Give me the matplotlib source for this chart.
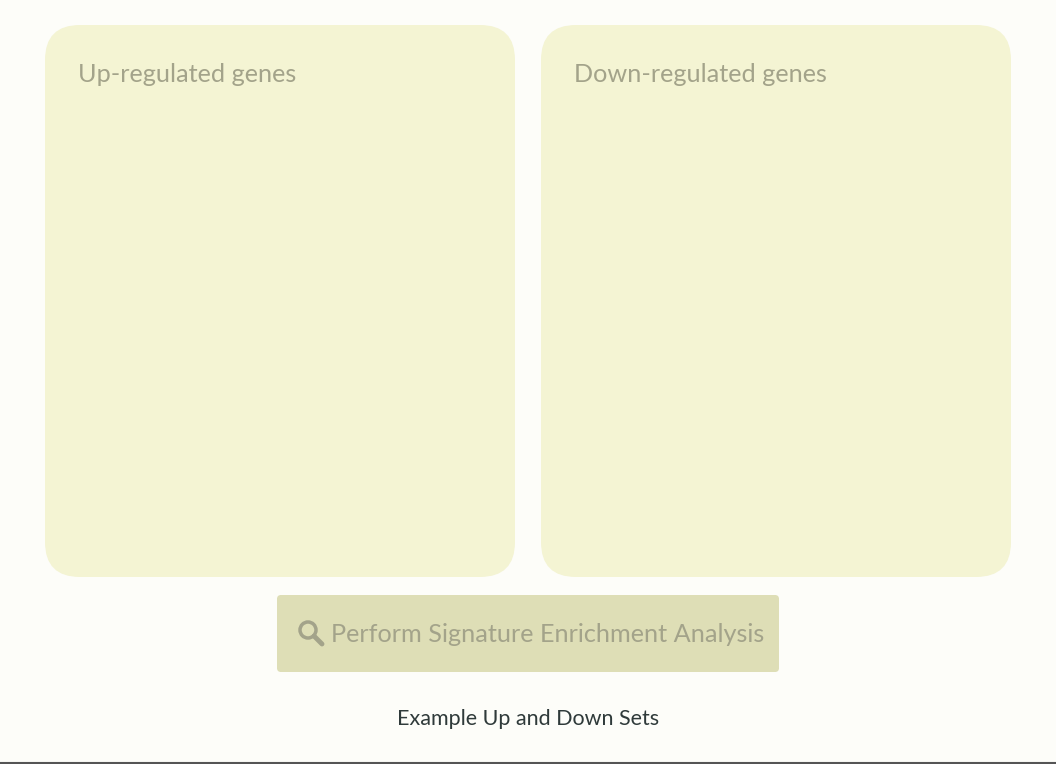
import matplotlib.pyplot as plt
from matplotlib.patches import FancyBboxPatch, Circle

panel_titles = ["Up-regulated genes", "Down-regulated genes"]
panel_left = [45, 541]
button_label = "Perform Signature Enrichment Analysis"
footer_label = "Example Up and Down Sets"

fig = plt.figure(figsize=(10.56, 7.64), dpi=100)
fig.patch.set_facecolor("#fdfdf9")
ax = fig.add_axes([0, 0, 1, 1])
ax.set_xlim(0, 1056)
ax.set_ylim(764, 0)
ax.axis("off")

for x0, title in zip(panel_left, panel_titles):
    ax.add_patch(FancyBboxPatch((x0 + 35, 25 + 35), 470 - 70, 552 - 70,
                                boxstyle="round,pad=35", fc="#f4f4d3", ec="none"))
    ax.text(x0 + 33, 74, title, fontsize=18.2, family=["Lato", "DejaVu Sans"],
            color="#a3a38a", va="center", ha="left")

ax.add_patch(FancyBboxPatch((281, 599), 494, 69, boxstyle="round,pad=4",
                            fc="#dedeb6", ec="none"))
ax.add_patch(Circle((308, 630), 8, fill=False, ec="#a3a38a", lw=2.5))
ax.plot([314, 322], [636, 644], color="#a3a38a", lw=3.5, solid_capstyle="round")
ax.text(331, 635, button_label, fontsize=18.2, family=["Lato", "DejaVu Sans"],
        color="#a3a38a", va="center", ha="left")

ax.text(528, 719, footer_label, fontsize=15.5, family=["Lato", "DejaVu Sans"],
        color="#2f3a3a", va="center", ha="center")
ax.plot([0, 1056], [763, 763], color="#555555", lw=1.5)

fig.savefig("out.png", dpi=100, facecolor=fig.get_facecolor())
